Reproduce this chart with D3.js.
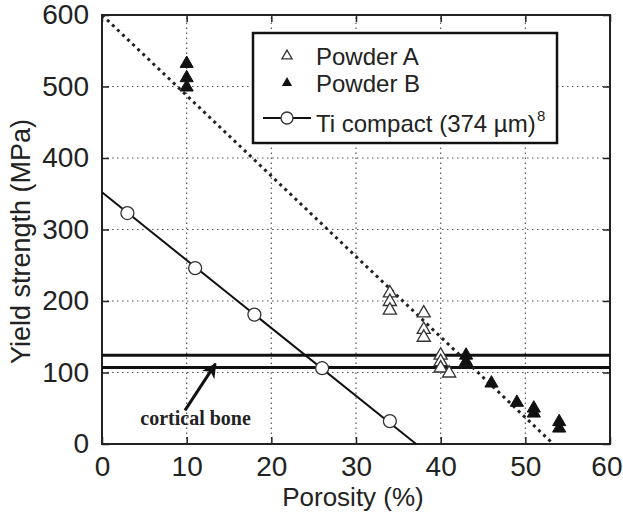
<!DOCTYPE html>
<html>
<head>
<meta charset="utf-8">
<script src="https://cdn.jsdelivr.net/npm/d3@7"></script>
<style>
  body { margin: 0; background: #fff; }
  svg text { font-family: "Liberation Sans", Arial, sans-serif; fill: #222; }
</style>
</head>
<body>
<div id="chart"></div>
<script>
// values
var xTicks = [0, 10, 20, 30, 40, 50, 60];
var yTicks = [0, 100, 200, 300, 400, 500, 600];

var powderAPorosity = [34, 34, 34, 38, 38, 38, 40, 40, 40, 41];
var powderAStrength = [211, 199, 187, 183, 160, 149, 124, 115, 106, 99];

var powderBPorosity = [10, 10, 10, 43, 43, 46, 49, 51, 51, 54, 54];
var powderBStrength = [532, 512, 499, 124, 115, 85, 58, 50, 43, 31, 22];

var tiPorosity = [3, 11, 18, 26, 34];
var tiStrength = [323, 246, 181, 106, 32];

// fitted trend lines (end points)
var tiFitPorosity = [0, 37.1];
var tiFitStrength = [352, 0];
var powderFitPorosity = [0, 53.3];
var powderFitStrength = [600, 0];

// cortical bone band
var corticalBone = [107, 124];

var legendLabels = ["Powder A", "Powder B", "Ti compact (374 \u00b5m)"];

var width = 623, height = 528;
var margin = { left: 102, top: 15, right: 13, bottom: 84 };
var innerW = width - margin.left - margin.right;
var innerH = height - margin.top - margin.bottom;

var svg = d3.select("#chart").append("svg")
  .attr("width", width)
  .attr("height", height);

var x = d3.scaleLinear().domain([0, 60]).range([margin.left, margin.left + innerW]);
var y = d3.scaleLinear().domain([0, 600]).range([margin.top + innerH, margin.top]);

// dotted grid
svg.append("g").selectAll("line")
  .data(xTicks.slice(1, -1))
  .enter().append("line")
  .attr("x1", function (d) { return x(d); })
  .attr("x2", function (d) { return x(d); })
  .attr("y1", y(0)).attr("y2", y(600))
  .attr("stroke", "#555").attr("stroke-width", 1.2)
  .attr("stroke-dasharray", "1.5,3.5");

svg.append("g").selectAll("line")
  .data(yTicks.slice(1, -1))
  .enter().append("line")
  .attr("y1", function (d) { return y(d); })
  .attr("y2", function (d) { return y(d); })
  .attr("x1", x(0)).attr("x2", x(60))
  .attr("stroke", "#555").attr("stroke-width", 1.2)
  .attr("stroke-dasharray", "1.5,3.5");

// axes with inward ticks on all four sides
var tickLen = 7;
var xAxisG = svg.append("g")
  .attr("transform", "translate(0," + y(0) + ")")
  .call(d3.axisBottom(x).tickValues(xTicks).tickSize(-tickLen).tickPadding(tickLen + 4))
  .call(styleAxis);
xAxisG.selectAll("text").attr("dy", "0.75em");
// last label sits against the page edge, as in the source image
xAxisG.selectAll(".tick text")
  .filter(function (d) { return d === 60; })
  .attr("text-anchor", "end")
  .attr("dx", 12);

svg.append("g")
  .attr("transform", "translate(0," + y(600) + ")")
  .call(d3.axisTop(x).tickValues(xTicks).tickSize(-tickLen).tickFormat(""))
  .call(styleAxis);

svg.append("g")
  .attr("transform", "translate(" + x(0) + ",0)")
  .call(d3.axisLeft(y).tickValues(yTicks).tickSize(-tickLen).tickPadding(tickLen + 6))
  .call(styleAxis);

svg.append("g")
  .attr("transform", "translate(" + x(60) + ",0)")
  .call(d3.axisRight(y).tickValues(yTicks).tickSize(-tickLen).tickFormat(""))
  .call(styleAxis);

function styleAxis(g) {
  g.select(".domain").remove();
  g.selectAll(".tick line").attr("stroke", "#222").attr("stroke-width", 1.5);
  g.selectAll(".tick text")
    .style("font-family", "Liberation Sans, Arial, sans-serif")
    .style("font-size", "28px")
    .attr("fill", "#222");
}

// frame
svg.append("rect")
  .attr("x", x(0)).attr("y", y(600))
  .attr("width", x(60) - x(0)).attr("height", y(0) - y(600))
  .attr("fill", "none").attr("stroke", "#222").attr("stroke-width", 2);

// cortical bone lines
svg.append("g").selectAll("line")
  .data(corticalBone)
  .enter().append("line")
  .attr("x1", x(0)).attr("x2", x(60))
  .attr("y1", function (d) { return y(d); })
  .attr("y2", function (d) { return y(d); })
  .attr("stroke", "#111").attr("stroke-width", 3);

// trend lines
var line = d3.line()
  .x(function (d) { return x(d[0]); })
  .y(function (d) { return y(d[1]); });

svg.append("path")
  .datum(d3.zip(powderFitPorosity, powderFitStrength))
  .attr("d", line)
  .attr("fill", "none").attr("stroke", "#222")
  .attr("stroke-width", 3).attr("stroke-dasharray", "3,4");

svg.append("path")
  .datum(d3.zip(tiFitPorosity, tiFitStrength))
  .attr("d", line)
  .attr("fill", "none").attr("stroke", "#111").attr("stroke-width", 2);

// markers
var triangle = d3.symbol().type(d3.symbolTriangle).size(75);

svg.append("g").selectAll("path")
  .data(d3.zip(powderAPorosity, powderAStrength))
  .enter().append("path")
  .attr("d", triangle)
  .attr("transform", function (d) { return "translate(" + x(d[0]) + "," + y(d[1]) + ")"; })
  .attr("fill", "#fff").attr("stroke", "#333").attr("stroke-width", 1.3);

svg.append("g").selectAll("path")
  .data(d3.zip(powderBPorosity, powderBStrength))
  .enter().append("path")
  .attr("d", triangle)
  .attr("transform", function (d) { return "translate(" + x(d[0]) + "," + y(d[1]) + ")"; })
  .attr("fill", "#111").attr("stroke", "#111").attr("stroke-width", 1);

svg.append("g").selectAll("circle")
  .data(d3.zip(tiPorosity, tiStrength))
  .enter().append("circle")
  .attr("cx", function (d) { return x(d[0]); })
  .attr("cy", function (d) { return y(d[1]); })
  .attr("r", 6.5)
  .attr("fill", "#fff").attr("stroke", "#333").attr("stroke-width", 1.3);

// cortical bone annotation
var arrowFrom = [9.8, 47], arrowTo = [13.4, 112];
svg.append("defs").append("marker")
  .attr("id", "head")
  .attr("viewBox", "0 0 10 10")
  .attr("refX", 9).attr("refY", 5)
  .attr("markerWidth", 5).attr("markerHeight", 5)
  .attr("orient", "auto")
  .append("path")
  .attr("d", "M0,0 L10,5 L0,10 L3,5 Z")
  .attr("fill", "#111");

svg.append("line")
  .attr("x1", x(arrowFrom[0])).attr("y1", y(arrowFrom[1]))
  .attr("x2", x(arrowTo[0])).attr("y2", y(arrowTo[1]))
  .attr("stroke", "#111").attr("stroke-width", 3)
  .attr("marker-end", "url(#head)");

svg.append("text")
  .attr("x", x(11.05)).attr("y", y(26.5))
  .attr("text-anchor", "middle")
  .style("font-family", "Liberation Serif, Times New Roman, serif")
  .style("font-weight", "bold")
  .style("font-size", "20px")
  .text("cortical bone");

// axis titles
svg.append("text")
  .attr("x", x(30) - 3).attr("y", 506)
  .attr("text-anchor", "middle")
  .style("font-size", "26px")
  .text("Porosity (%)");

svg.append("text")
  .attr("transform", "translate(30," + ((y(0) + y(600)) / 2 + 12) + ") rotate(-90)")
  .attr("text-anchor", "middle")
  .style("font-size", "27px")
  .text("Yield strength (MPa)");

// legend
var legend = svg.append("g");
legend.append("rect")
  .attr("x", 253).attr("y", 33).attr("width", 304).attr("height", 110)
  .attr("fill", "#fff").attr("stroke", "#111").attr("stroke-width", 2.5);

var smallTriangle = d3.symbol().type(d3.symbolTriangle).size(45);
var rowY = [56, 83, 118];

legend.append("path").attr("d", smallTriangle)
  .attr("transform", "translate(287," + rowY[0] + ")")
  .attr("fill", "#fff").attr("stroke", "#333").attr("stroke-width", 1.3);
legend.append("path").attr("d", smallTriangle)
  .attr("transform", "translate(287," + rowY[1] + ")")
  .attr("fill", "#111");
legend.append("line")
  .attr("x1", 263).attr("x2", 311).attr("y1", rowY[2]).attr("y2", rowY[2])
  .attr("stroke", "#111").attr("stroke-width", 2);
legend.append("circle")
  .attr("cx", 287).attr("cy", rowY[2]).attr("r", 6)
  .attr("fill", "#fff").attr("stroke", "#333").attr("stroke-width", 1.3);

legend.selectAll("text.lab")
  .data(legendLabels)
  .enter().append("text")
  .attr("class", "lab")
  .attr("x", 316)
  .attr("y", function (d, i) { return [65, 92, 132][i]; })
  .style("font-size", "24px")
  .text(function (d) { return d; });

legend.append("text")
  .attr("x", 537).attr("y", 121)
  .style("font-size", "15px")
  .text("8");
</script>
</body>
</html>
